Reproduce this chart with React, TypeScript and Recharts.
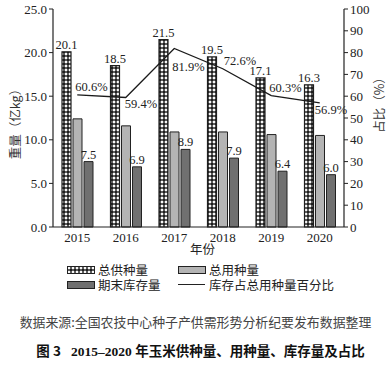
import { ComposedChart, Bar, Line, XAxis, YAxis, Legend, LabelList } from 'recharts';

const years = ['2015', '2016', '2017', '2018', '2019', '2020'];
const totalSupply = [20.1, 18.5, 21.5, 19.5, 17.1, 16.3];
const totalUse = [12.4, 11.6, 10.9, 10.9, 10.6, 10.5];
const endStock = [7.5, 6.9, 8.9, 7.9, 6.4, 6.0];
const stockRatio = [60.6, 59.4, 81.9, 72.6, 60.3, 56.9];
const leftTicks = [0, 5, 10, 15, 20, 25];
const rightTicks = [0, 10, 20, 30, 40, 50, 60, 70, 80, 90, 100];

const data = years.map((year, i) => ({
  year,
  supply: totalSupply[i],
  use: totalUse[i],
  stock: endStock[i],
  ratio: stockRatio[i],
}));

const SERIF = '"Liberation Serif", "Times New Roman", "Noto Sans CJK SC", serif';
const CJK = '"Noto Sans CJK SC", sans-serif';

// where each percentage label sits relative to its point (text start x, text middle y)
const pctOffsets = [
  [-2, -8],
  [-1, 6],
  [-2, 19],
  [1, -8],
  [-2, -8],
  [-5, 7],
];

const PctLabel = (props: any) => {
  const { value, index } = props;
  const px = props.viewBox ? props.viewBox.x : props.x;
  const py = props.viewBox ? props.viewBox.y : props.y;
  const [dx, dy] = pctOffsets[index] || [0, 0];
  return (
    <text
      x={px + dx}
      y={py + dy}
      textAnchor="start"
      dominantBaseline="central"
      fontSize={12.5}
      fontFamily={SERIF}
      fill="#222"
    >
      {value.toFixed(1)}%
    </text>
  );
};

const BarTopLabel = ({ x, y, width, value }: any) => (
  <text
    x={x + width / 2}
    y={y - 3}
    textAnchor="middle"
    fontSize={12.5}
    fontFamily={SERIF}
    fill="#222"
  >
    {value.toFixed(1)}
  </text>
);

const Swatch = ({ fill }: { fill: string }) => (
  <svg width={28} height={8} style={{ marginRight: 3, flex: 'none' }}>
    <rect x={0.5} y={0.5} width={27} height={7} fill={fill} stroke="#222" strokeWidth={1} />
  </svg>
);

const CustomLegend = () => {
  const item = (icon: any, text: string) => (
    <div style={{ display: 'flex', alignItems: 'center', width: 111, height: 15, lineHeight: '15px' }}>
      {icon}
      <span style={{ fontFamily: CJK, fontSize: 12.5, color: '#222', whiteSpace: 'nowrap' }}>{text}</span>
    </div>
  );
  return (
    <div style={{ paddingLeft: 67, paddingTop: 2 }}>
      <div style={{ display: 'flex' }}>
        {item(<Swatch fill="url(#hatch)" />, '总供种量')}
        {item(<Swatch fill="#b4b4b4" />, '总用种量')}
      </div>
      <div style={{ display: 'flex' }}>
        {item(<Swatch fill="#707070" />, '期末库存量')}
        {item(
          <div style={{ width: 27, height: 0, borderTop: '1.3px solid #222', marginRight: 4, flex: 'none' }} />,
          '库存占总用种量百分比'
        )}
      </div>
    </div>
  );
};

export default function App() {
  return (
    <div style={{ position: 'absolute', left: 0, top: 0, width: 387, height: 367, background: '#fff' }}>
      <svg width={0} height={0} style={{ position: 'absolute' }}>
        <defs>
          <pattern id="hatch" width={4} height={4} patternUnits="userSpaceOnUse">
            <rect width={4} height={4} fill="#1e1e1e" />
            <path d="M2 0.25 L3.75 2 L2 3.75 L0.25 2 Z" fill="#fff" />
          </pattern>
        </defs>
      </svg>
      <ComposedChart
        width={387}
        height={305}
        data={data}
        margin={{ top: 9, right: 0, bottom: 0, left: 0 }}
        barSize={9}
        barGap={2}
      >
        <XAxis
          dataKey="year"
          height={33}
          tickLine={false}
          axisLine={{ stroke: '#222', strokeWidth: 1.2 }}
          tick={{ fontSize: 13, fontFamily: SERIF, fill: '#222' }}
          tickMargin={0}
          label={{ value: '年份', position: 'insideBottom', offset: 6, dx: 4, fontSize: 12.5, fontFamily: CJK, fill: '#222' }}
        />
        <YAxis
          yAxisId="left"
          width={53}
          domain={[0, 25]}
          ticks={leftTicks}
          tickFormatter={(v: number) => v.toFixed(1)}
          tickSize={4}
          tickLine={{ stroke: '#222' }}
          axisLine={{ stroke: '#222', strokeWidth: 1.2 }}
          tick={{ fontSize: 13, fontFamily: SERIF, fill: '#222' }}
          label={{
            value: '重量（亿kg）',
            angle: -90,
            position: 'center',
            dx: -11,
            dy: 3,
            fontSize: 12.5,
            fontFamily: CJK,
            fill: '#333',
          }}
        />
        <YAxis
          yAxisId="right"
          orientation="right"
          width={43}
          domain={[0, 100]}
          ticks={rightTicks}
          tickSize={4}
          tickLine={{ stroke: '#222' }}
          axisLine={{ stroke: '#222', strokeWidth: 1.2 }}
          tick={{ fontSize: 13, fontFamily: SERIF, fill: '#222' }}
          label={{
            value: '占比（%）',
            angle: -90,
            position: 'center',
            dx: 14,
            dy: -16,
            fontSize: 12.5,
            fontFamily: CJK,
            fill: '#333',
          }}
        />
        <Bar yAxisId="left" dataKey="supply" fill="url(#hatch)" stroke="#1e1e1e" strokeWidth={1.2} isAnimationActive={false}>
          <LabelList dataKey="supply" content={BarTopLabel} />
        </Bar>
        <Bar yAxisId="left" dataKey="use" fill="#b4b4b4" stroke="#222" strokeWidth={1} isAnimationActive={false} />
        <Bar yAxisId="left" dataKey="stock" fill="#707070" stroke="#222" strokeWidth={1} isAnimationActive={false}>
          <LabelList dataKey="stock" content={BarTopLabel} />
        </Bar>
        <Line
          yAxisId="right"
          dataKey="ratio"
          stroke="#1a1a1a"
          strokeWidth={1.3}
          dot={false}
          activeDot={false}
          isAnimationActive={false}
        >
          <LabelList dataKey="ratio" content={PctLabel} />
        </Line>
        <Legend verticalAlign="bottom" height={45} content={<CustomLegend />} />
      </ComposedChart>
      <div
        style={{
          position: 'absolute',
          left: 2,
          top: 312,
          width: 387,
          textAlign: 'center',
          fontFamily: CJK,
          fontSize: 12.9,
          color: '#444',
          whiteSpace: 'nowrap',
        }}
      >
        数据来源:全国农技中心种子产供需形势分析纪要发布数据整理
      </div>
      <div
        style={{
          position: 'absolute',
          left: 7,
          top: 340,
          width: 387,
          textAlign: 'center',
          fontFamily: CJK,
          fontSize: 13.5,
          fontWeight: 'bold',
          color: '#111',
          whiteSpace: 'pre',
        }}
      >
        <span>图 3</span>
        <span style={{ fontFamily: SERIF }}>{'   2015–2020 '}</span>
        <span>年玉米供种量、用种量、库存量及占比</span>
      </div>
    </div>
  );
}
